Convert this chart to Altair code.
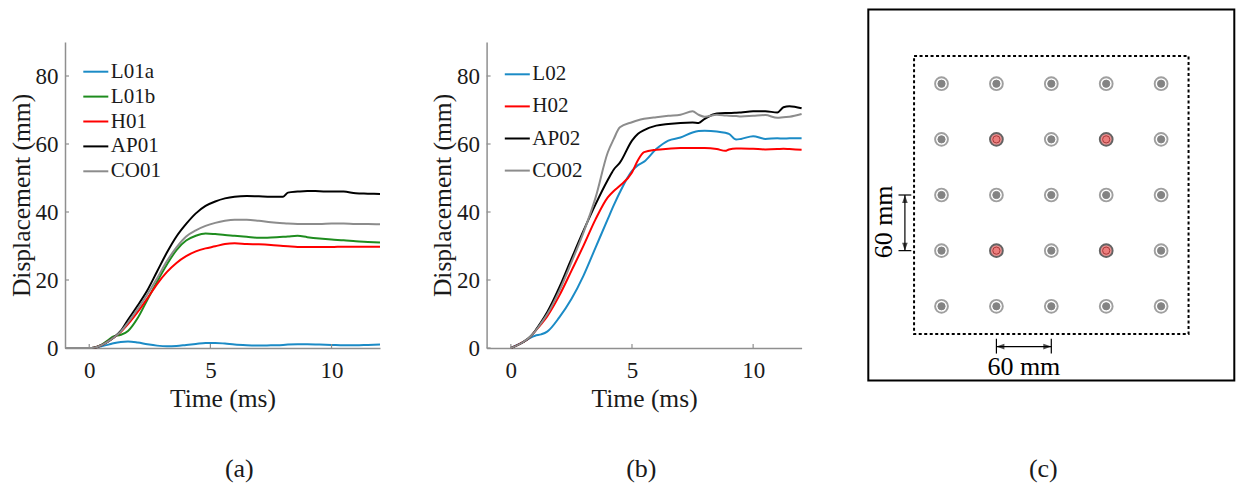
import altair as alt
import pandas as pd

FONT = "Liberation Serif"
TEXT = "#1a1a1a"
AXIS = "#8f8f8f"

# ---------------- data: panel (a) ----------------
T_A = [-1, 0, 0.2, 0.5, 0.8, 1.0, 1.3, 1.6, 2.0, 2.4, 2.8, 3.2, 3.6, 4.0, 4.4, 4.8,
       5.2, 5.6, 6.0, 6.5, 7.0, 7.5, 8.0, 8.2, 8.6, 9.0, 9.5, 10.0, 10.5, 11.0, 11.5, 12.0]
L01a = [0, 0, 0.1, 0.5, 1.0, 1.4, 1.8, 1.9, 1.6, 1.1, 0.7, 0.5, 0.6, 0.9, 1.2, 1.5,
        1.5, 1.3, 1.0, 0.8, 0.7, 0.8, 0.9, 1.0, 1.1, 1.1, 1.0, 0.9, 0.8, 0.8, 0.9, 1.0]
L01b = [0, 0, 0.1, 0.9, 2.4, 3.4, 3.9, 5.0, 8.8, 14.2, 19.5, 24.5, 28.8, 31.6, 33.0, 33.7,
        33.5, 33.2, 33.0, 32.7, 32.4, 32.5, 32.7, 32.8, 33.0, 32.6, 32.2, 31.9, 31.7, 31.4, 31.2, 31.0]
H01 = [0, 0, 0.1, 0.8, 2.0, 3.0, 4.7, 7.0, 10.6, 14.6, 18.8, 22.3, 25.0, 27.0, 28.4, 29.3,
       29.9, 30.6, 30.8, 30.6, 30.5, 30.3, 30.0, 29.9, 29.7, 29.7, 29.7, 29.7, 29.8, 29.8, 29.8, 29.8]
AP01 = [0, 0, 0.1, 0.8, 2.0, 3.0, 5.0, 8.3, 12.5, 17.0, 22.5, 28.0, 32.8, 36.5, 39.6, 41.8,
        43.1, 44.0, 44.5, 44.7, 44.6, 44.5, 44.5, 45.7, 46.0, 46.2, 46.1, 46.0, 46.0, 45.5, 45.4, 45.3]
CO01 = [0, 0, 0.1, 0.8, 2.0, 3.0, 4.8, 7.5, 11.5, 15.8, 20.5, 25.5, 29.6, 32.8, 34.6, 35.9,
        36.8, 37.4, 37.7, 37.7, 37.4, 37.0, 36.7, 36.6, 36.5, 36.5, 36.5, 36.6, 36.6, 36.5, 36.5, 36.4]
NAMES_A = ["L01a", "L01b", "H01", "AP01", "CO01"]
COLORS_A = ["#1b8bc6", "#1e8c1e", "#ff0000", "#000000", "#8c8c8c"]

# ---------------- data: panel (b) ----------------
T_B = [0, 0.5, 0.8, 1.0, 1.25, 1.5, 2, 2.5, 3, 3.5, 4, 4.25, 4.5, 5, 5.25, 5.5, 6, 6.5,
       7, 7.5, 7.75, 8, 8.5, 8.85, 9, 9.3, 9.5, 10, 10.5, 11, 11.25, 11.5, 12]
L02 = [0, 1.7, 3.0, 3.6, 4.0, 4.8, 9.0, 14.4, 21.3, 29.6, 37.9, 42.0, 45.8, 52.1, 53.8, 54.8,
       58.5, 61.0, 61.9, 63.4, 63.8, 63.9, 63.7, 63.3, 63.0, 61.3, 61.5, 62.3, 61.5, 61.7, 61.6, 61.7, 61.7]
H02 = [0, 1.7, 3.2, 4.9, 7.0, 9.3, 15.4, 22.7, 30.1, 37.9, 44.3, 46.2, 47.7, 51.6, 55.3, 57.6,
       58.3, 58.6, 58.8, 58.8, 58.8, 58.8, 58.5, 58.0, 58.4, 58.7, 58.7, 58.6, 58.4, 58.5, 58.6, 58.5, 58.3]
AP02 = [0, 1.7, 3.3, 5.0, 7.6, 10.5, 17.8, 26.2, 34.5, 42.3, 49.4, 52.5, 54.5, 61.0, 63.0, 64.1,
        65.4, 65.9, 66.2, 66.3, 66.2, 67.4, 69.0, 69.1, 69.1, 69.2, 69.3, 69.6, 69.6, 69.3, 70.8, 71.1, 70.5]
CO02 = [0, 1.7, 3.3, 4.9, 7.3, 9.9, 16.8, 25.2, 34.0, 44.3, 57.5, 61.5, 64.9, 66.4, 67.0, 67.4,
        67.9, 68.3, 68.6, 69.6, 68.6, 68.0, 68.6, 68.4, 68.3, 68.2, 68.1, 68.3, 68.5, 67.7, 67.9, 68.0, 68.8]
NAMES_B = ["L02", "H02", "AP02", "CO02"]
COLORS_B = ["#1b8bc6", "#ff0000", "#000000", "#8c8c8c"]

X_TICKS = [0, 5, 10]
Y_TICKS = [0, 20, 40, 60, 80]
X_DOMAIN = [-1, 12]
Y_DOMAIN = [0, 90]

# ---------------- data: panel (c) (mm) ----------------
GRID = [-120, -60, 0, 60, 120]
RED_COLS = [-60, 60]
RED_ROWS = [-60, 60]
PLATE = [-200, 200]
ZONE = [-150, 150]
C_X = [-156.4, 200]
C_Y = [-165, 165]
V_ARROW_X = -160
V_ARROW_Y = [0, -60]
V_BAR_X = [-167, -153]
H_ARROW_Y = -163.5
H_ARROW_X = [-60, 0]
H_BAR_Y = [-155, -171]
DIM_LABEL = "60 mm"
V_LABEL_POS = (-183, -29)
H_LABEL_POS = (-30, -186)

W, H = 315, 306
C_W = 326.1
GAP = 106.6


def line_panel(times, names, series, colors, leg_x, leg_y, row_pad, label, label_x):
    df = pd.DataFrame([{"t": t, "d": v, "series": n}
                       for n, vals in zip(names, series) for t, v in zip(times, vals)])
    xs = alt.Scale(domain=X_DOMAIN, nice=False, zero=False)
    ys = alt.Scale(domain=Y_DOMAIN, nice=False, zero=False)
    xax = alt.Axis(values=X_TICKS, title="Time (ms)", grid=False, ticks=False, tickSize=0,
                   labelPadding=11.5, labelFlush=False, labelOverlap=False,
                   titleY=58, titleBaseline="alphabetic")
    yax = alt.Axis(values=Y_TICKS, title="Displacement (mm)", grid=False, ticks=False, tickSize=0,
                   labelPadding=7, labelFlush=False, labelOverlap=False,
                   titleX=-36, titleY=H / 2, titleAngle=270, titleBaseline="alphabetic",
                   titleAlign="center")
    x = alt.X("t:Q", scale=xs, axis=xax)
    y = alt.Y("d:Q", scale=ys, axis=yax)
    legend = alt.Legend(title=None, orient="none", legendX=leg_x, legendY=leg_y,
                        symbolType="M-1.5,0L1.5,0", symbolSize=278, symbolStrokeWidth=2,
                        labelFont=FONT, labelFontSize=21, labelColor=TEXT, labelOffset=4.5,
                        rowPadding=row_pad, padding=0)
    lines = alt.Chart(df).mark_line(strokeWidth=2, interpolate="monotone").encode(
        x=x, y=y,
        color=alt.Color("series:N", scale=alt.Scale(domain=names, range=colors), legend=legend),
    )
    xt = alt.Chart(pd.DataFrame({"t": X_TICKS})).mark_rule(color=AXIS, strokeWidth=1.2).encode(
        x=x, y=alt.value(H), y2=alt.value(H - 4))
    yt = alt.Chart(pd.DataFrame({"d": Y_TICKS})).mark_rule(color=AXIS, strokeWidth=1.2).encode(
        y=y, x=alt.value(0), x2=alt.value(4))
    lab = alt.Chart(pd.DataFrame({"label": [label]})).mark_text(
        font=FONT, fontSize=26, color=TEXT, baseline="middle", align="center").encode(
        x=alt.value(label_x), y=alt.value(427), text="label:N")
    return alt.layer(lines, xt, yt, lab).properties(width=W, height=H)


panel_a = line_panel(T_A, NAMES_A, [L01a, L01b, H01, AP01, CO01], COLORS_A,
                     20.3, 19.2, 2.9, "(a)", 174.3)
panel_b = line_panel(T_B, NAMES_B, [L02, H02, AP02, CO02], COLORS_B,
                     20.2, 21.8, 10.1, "(b)", 154.7)

# ---------------- panel (c) ----------------
cxs = alt.Scale(domain=C_X, nice=False, zero=False)
cys = alt.Scale(domain=C_Y, nice=False, zero=False)


def rect_layer(r, **style):
    d = pd.DataFrame({"x1": [r[0]], "x2": [r[1]], "y1": [r[0]], "y2": [r[1]]})
    return alt.Chart(d).mark_rect(fill="transparent", stroke="black", **style).encode(
        x=alt.X("x1:Q", scale=cxs, axis=None), x2="x2:Q",
        y=alt.Y("y1:Q", scale=cys, axis=None), y2="y2:Q")


plate = rect_layer(PLATE, strokeWidth=2)
zone = rect_layer(ZONE, strokeWidth=2, strokeDash=[3, 2.5])

pts = pd.DataFrame([{"x": gx, "y": gy,
                     "kind": "red" if (gx in RED_COLS and gy in RED_ROWS) else "gray"}
                    for gy in GRID for gx in GRID])
px = alt.X("x:Q", scale=cxs, axis=None)
py = alt.Y("y:Q", scale=cys, axis=None)
outer = alt.Chart(pts).mark_point(shape="circle", filled=True, size=165, strokeWidth=1.9).encode(
    x=px, y=py,
    fill=alt.Fill("kind:N", scale=alt.Scale(domain=["gray", "red"], range=["#ffffff", "#df6262"]), legend=None),
    stroke=alt.Stroke("kind:N", scale=alt.Scale(domain=["gray", "red"], range=["#777777", "#222222"]), legend=None),
)
inner = alt.Chart(pts).mark_point(shape="circle", filled=True, size=52, strokeWidth=1).encode(
    x=px, y=py,
    fill=alt.Fill("kind:N", scale=alt.Scale(domain=["gray", "red"], range=["#505050", "#ef7676"]), legend=None),
    stroke=alt.Stroke("kind:N", scale=alt.Scale(domain=["gray", "red"], range=["#505050", "#8f1414"]), legend=None),
)
marker_layers = alt.layer(outer, inner).resolve_scale(fill="independent", stroke="independent")

rules = pd.DataFrame([
    {"x1": V_ARROW_X, "x2": V_ARROW_X, "y1": V_ARROW_Y[0], "y2": V_ARROW_Y[1]},
    {"x1": V_BAR_X[0], "x2": V_BAR_X[1], "y1": V_ARROW_Y[0], "y2": V_ARROW_Y[0]},
    {"x1": V_BAR_X[0], "x2": V_BAR_X[1], "y1": V_ARROW_Y[1], "y2": V_ARROW_Y[1]},
    {"x1": H_ARROW_X[0], "x2": H_ARROW_X[1], "y1": H_ARROW_Y, "y2": H_ARROW_Y},
    {"x1": H_ARROW_X[0], "x2": H_ARROW_X[0], "y1": H_BAR_Y[0], "y2": H_BAR_Y[1]},
    {"x1": H_ARROW_X[1], "x2": H_ARROW_X[1], "y1": H_BAR_Y[0], "y2": H_BAR_Y[1]},
])
dim_rules = alt.Chart(rules).mark_rule(color="black", strokeWidth=1.2).encode(
    x=alt.X("x1:Q", scale=cxs, axis=None), x2="x2:Q",
    y=alt.Y("y1:Q", scale=cys, axis=None), y2="y2:Q")

heads = pd.DataFrame([
    {"x": V_ARROW_X, "y": V_ARROW_Y[0], "dir": "up"},
    {"x": V_ARROW_X, "y": V_ARROW_Y[1], "dir": "down"},
    {"x": H_ARROW_X[0], "y": H_ARROW_Y, "dir": "left"},
    {"x": H_ARROW_X[1], "y": H_ARROW_Y, "dir": "right"},
])
arrow_heads = alt.Chart(heads).mark_point(filled=True, size=64, color="black", strokeWidth=0).encode(
    x=px, y=py,
    shape=alt.Shape("dir:N", scale=alt.Scale(
        domain=["up", "down", "left", "right"],
        range=["M0,0L-0.7,2L0.7,2Z", "M0,0L-0.7,-2L0.7,-2Z", "M0,0L2,-0.7L2,0.7Z", "M0,0L-2,-0.7L-2,0.7Z"]),
        legend=None),
)

v_text = alt.Chart(pd.DataFrame({"x": [V_LABEL_POS[0]], "y": [V_LABEL_POS[1]], "t": [DIM_LABEL]})).mark_text(
    font=FONT, fontSize=26, color="black", angle=270, align="center", baseline="middle").encode(
    x=px, y=py, text="t:N")
h_text = alt.Chart(pd.DataFrame({"x": [H_LABEL_POS[0]], "y": [H_LABEL_POS[1]], "t": [DIM_LABEL]})).mark_text(
    font=FONT, fontSize=26, color="black", align="center", baseline="middle").encode(
    x=px, y=py, text="t:N")
c_lab = alt.Chart(pd.DataFrame({"label": ["(c)"]})).mark_text(
    font=FONT, fontSize=26, color=TEXT, baseline="middle", align="center").encode(
    x=alt.value(135.1), y=alt.value(427), text="label:N")

panel_c = alt.layer(plate, zone, marker_layers, dim_rules, arrow_heads, v_text, h_text, c_lab).resolve_scale(
    fill="independent", stroke="independent").properties(width=C_W, height=H)

chart = alt.hconcat(panel_a, panel_b, panel_c, spacing=GAP, bounds="flush").resolve_scale(
    color="independent", fill="independent", stroke="independent", shape="independent"
).properties(padding=0).configure_view(stroke="transparent").configure_axis(
    labelFont=FONT, titleFont=FONT, labelColor=TEXT, titleColor=TEXT,
    domainColor=AXIS, domainWidth=1.5, titleFontWeight="normal",
    labelFontSize=23, titleFontSize=25.5,
)

chart.save("out.html", embed_options={"renderer": "svg", "actions": False})
